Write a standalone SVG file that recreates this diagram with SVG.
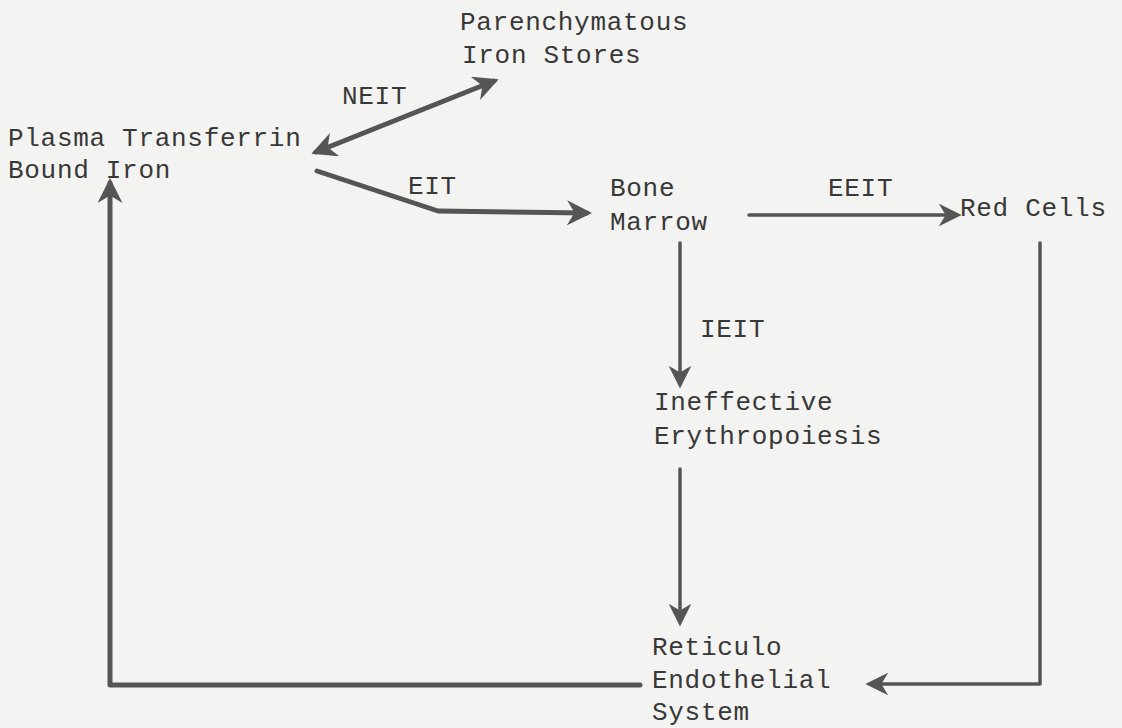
<svg xmlns="http://www.w3.org/2000/svg" width="1122" height="728" viewBox="0 0 1122 728">
<style>
text{font-family:"Liberation Mono","Courier New",monospace;font-size:26px;letter-spacing:0.7px;fill:#383838}
.c{fill:none;stroke:#555;stroke-linecap:round;stroke-linejoin:round}
.t{stroke-width:5}
.m{stroke-width:3.5}
</style>
<defs>
<marker id="ah" viewBox="0 0 10 10" refX="8" refY="5" markerWidth="5" markerHeight="5" orient="auto-start-reverse" markerUnits="strokeWidth">
<path d="M0,0 L10,5 L0,10 L3,5 z" fill="#555"/>
</marker>
<marker id="ah2" viewBox="0 0 10 10" refX="8" refY="5" markerWidth="6.5" markerHeight="6.5" orient="auto-start-reverse" markerUnits="strokeWidth">
<path d="M0,0 L10,5 L0,10 L3,5 z" fill="#555"/>
</marker>
</defs>
<rect width="1122" height="728" fill="#f3f3f1"/>
<g id="connectors">
<path class="c t" d="M316,152 L494,81" marker-start="url(#ah)" marker-end="url(#ah)"/>
<path class="c t" d="M317,171 L438,211 L587,213" marker-end="url(#ah)"/>
<path class="c m" d="M749,215 L957,215" marker-end="url(#ah2)"/>
<path class="c m" d="M680,243 L680,384" marker-end="url(#ah2)"/>
<path class="c m" d="M680,469 L680,622" marker-end="url(#ah2)"/>
<path class="c m" d="M1040,243 L1040,684 L870,684" marker-end="url(#ah2)"/>
<path class="c t" d="M640,685 L110,685 L110,183" marker-end="url(#ah)"/>
</g>
<g id="labels">
<text x="342" y="104">NEIT</text>
<text x="408" y="194">EIT</text>
<text x="828" y="196">EEIT</text>
<text x="700" y="337">IEIT</text>
</g>
<g id="node-stores"><text x="460" y="30">Parenchymatous</text><text x="462" y="63">Iron Stores</text></g>
<g id="node-plasma"><text x="8" y="146">Plasma Transferrin</text><text x="8" y="178">Bound Iron</text></g>
<g id="node-marrow"><text x="610" y="196">Bone</text><text x="610" y="230">Marrow</text></g>
<g id="node-redcells"><text x="960" y="216">Red Cells</text></g>
<g id="node-ineffective"><text x="654" y="410">Ineffective</text><text x="654" y="444">Erythropoiesis</text></g>
<g id="node-re"><text x="652" y="655">Reticulo</text><text x="652" y="688">Endothelial</text><text x="652" y="720">System</text></g>
</svg>
